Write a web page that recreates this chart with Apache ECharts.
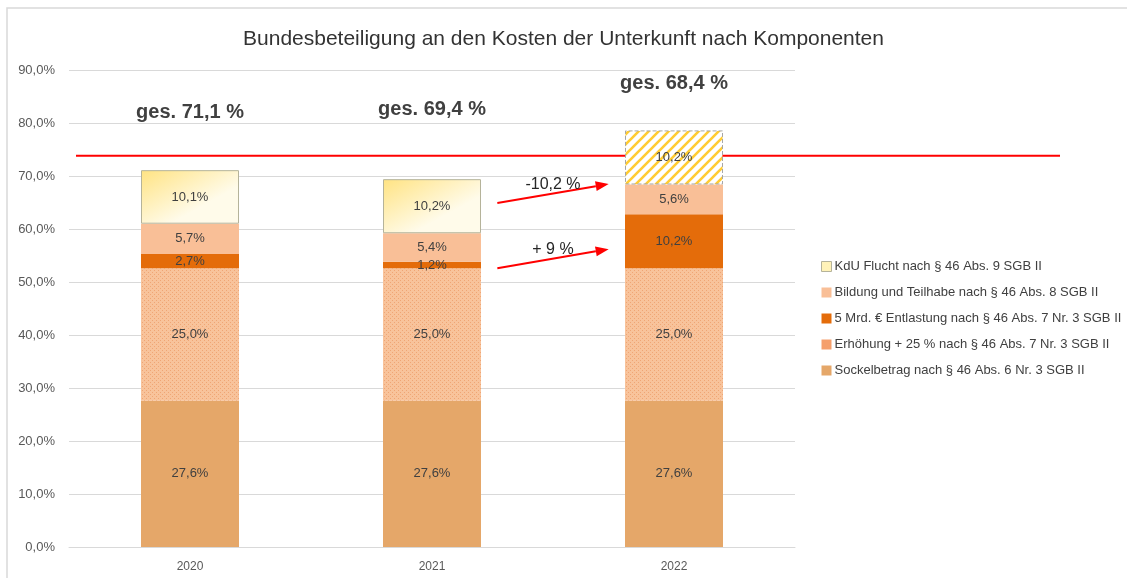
<!DOCTYPE html>
<html>
<head>
<meta charset="utf-8">
<script src="https://cdn.jsdelivr.net/npm/echarts@6/dist/echarts.min.js"></script>
<style>
  html, body { margin: 0; padding: 0; background: #fff; }
  #chart { width: 1127px; height: 578px; }
</style>
</head>
<body>
<div id="chart"></div>
<script>
// Daten (Anteile in %)
const years = ['2020', '2021', '2022'];
const sockelbetrag = [27.6, 27.6, 27.6];
const erhoehung = [25.0, 25.0, 25.0];
const entlastung = [2.7, 1.2, 10.2];
const bildung = [5.7, 5.4, 5.6];
const kduFlucht = [10.1, 10.2, 10.2];
const yTicks = [0, 10, 20, 30, 40, 50, 60, 70, 80, 90];

// Beschriftungen / Annotationen
const totalLabels = ['ges. 71,1 %', 'ges. 69,4 %', 'ges. 68,4 %'];
const totalLabelY = [81.9, 82.5, 87.5];
const refLineValue = 73.8;
const arrowFrom = [64.9, 52.6];
const arrowTo = [68.5, 56.2];
const arrowText = ['-10,2 %', '+ 9 %'];
const arrowTextY = [68.3, 56.2];

const seriesNames = [
  'Sockelbetrag nach § 46 Abs. 6 Nr. 3 SGB II',
  'Erhöhung + 25 % nach § 46 Abs. 7 Nr. 3 SGB II',
  '5 Mrd. € Entlastung nach § 46 Abs. 7 Nr. 3 SGB II',
  'Bildung und Teilhabe nach § 46 Abs. 8 SGB II',
  'KdU Flucht nach § 46 Abs. 9 SGB II'
];

// Muster: gepunktet (Erhöhung)
function dotPattern() {
  const c = document.createElement('canvas');
  c.width = 4; c.height = 4;
  const ctx = c.getContext('2d');
  ctx.fillStyle = '#F8C39B';
  ctx.fillRect(0, 0, 4, 4);
  ctx.fillStyle = '#EFA574';
  ctx.fillRect(0, 0, 1, 1);
  ctx.fillRect(2, 2, 1, 1);
  return c;
}
// Muster: schraffiert (KdU Flucht 2022)
function hatchPattern() {
  const s = 10;
  const c = document.createElement('canvas');
  c.width = s; c.height = s;
  const ctx = c.getContext('2d');
  ctx.fillStyle = '#ffffff';
  ctx.fillRect(0, 0, s, s);
  ctx.strokeStyle = '#FFCC33';
  ctx.lineWidth = 2.6;
  ctx.beginPath();
  ctx.moveTo(-2, s + 2); ctx.lineTo(s + 2, -2);
  ctx.moveTo(-s / 2 - 2, s / 2 + 2); ctx.lineTo(s / 2 + 2, -s / 2 - 2);
  ctx.moveTo(s / 2 - 2, s * 1.5 + 2); ctx.lineTo(s * 1.5 + 2, s / 2 - 2);
  ctx.stroke();
  return c;
}

const fmt = v => v.toFixed(1).replace('.', ',') + '%';

const kduGradient = new echarts.graphic.LinearGradient(0, 0, 0.3, 1, [
  { offset: 0, color: '#FFE382' },
  { offset: 1, color: '#FFFBEA' }
]);

const kduData = kduFlucht.map((v, i) => i === 2
  ? { value: v, itemStyle: { color: { image: hatchPattern(), repeat: 'repeat' }, borderColor: '#A6A6A6', borderWidth: 1, borderType: 'dashed' } }
  : { value: v, itemStyle: { color: kduGradient, borderColor: '#B5B39A', borderWidth: 1 } });

const barLabel = {
  show: true,
  position: 'inside',
  color: '#404040',
  fontSize: 13,
  fontFamily: 'Liberation Sans',
  formatter: p => fmt(p.value)
};

function bar(name, data, itemStyle) {
  return { name, type: 'bar', stack: 'total', barWidth: 98, data, itemStyle, label: barLabel };
}

const chartDom = document.getElementById('chart');
const chart = echarts.init(chartDom);

const option = {
  animation: false,
  backgroundColor: '#fff',
  textStyle: { fontFamily: 'Liberation Sans' },
  title: {
    text: 'Bundesbeteiligung an den Kosten der Unterkunft nach Komponenten',
    left: 'center',
    top: 24,
    textStyle: { fontSize: 21, fontWeight: 'normal', color: '#333333', fontFamily: 'Liberation Sans' }
  },
  legend: {
    orient: 'vertical',
    left: 816,
    top: 255,
    icon: 'rect',
    itemWidth: 10,
    itemHeight: 10,
    itemGap: 13,
    textStyle: { fontSize: 13, color: '#404040', padding: [0, 0, 0, -2] },
    data: [
      { name: seriesNames[4], itemStyle: { color: '#FFF2B8', borderColor: '#B5B39A', borderWidth: 1 } },
      { name: seriesNames[3] },
      { name: seriesNames[2] },
      { name: seriesNames[1], itemStyle: { color: '#F59F6C' } },
      { name: seriesNames[0] }
    ]
  },
  grid: { left: 69, right: 332, top: 70, bottom: 31 },
  xAxis: {
    type: 'category',
    data: years,
    axisTick: { show: false },
    axisLine: { lineStyle: { color: '#D9D9D9' } },
    axisLabel: { color: '#595959', fontSize: 12, margin: 14 }
  },
  yAxis: {
    type: 'value',
    min: yTicks[0],
    max: yTicks[yTicks.length - 1],
    interval: 10,
    axisLabel: { color: '#595959', fontSize: 13, margin: 14, formatter: v => v.toFixed(1).replace('.', ',') + '%' },
    splitLine: { lineStyle: { color: '#D9D9D9' } }
  },
  series: [
    bar(seriesNames[0], sockelbetrag, { color: '#E5A769' }),
    bar(seriesNames[1], erhoehung, { color: { image: dotPattern(), repeat: 'repeat' } }),
    bar(seriesNames[2], entlastung, { color: '#E46C0A' }),
    bar(seriesNames[3], bildung, { color: '#F9BF97' }),
    bar(seriesNames[4], kduData, {})
  ]
};

chart.setOption(option);

// Annotationen über Achsen-Umrechnung platzieren
function drawAnnotations() {
  const band = chart.convertToPixel({ xAxisIndex: 0 }, years[1]) - chart.convertToPixel({ xAxisIndex: 0 }, years[0]);
  const g = [];
  // Rahmen
  g.push({ type: 'polyline', shape: { points: [[7, 600], [7, 8], [1130, 8]] }, style: { stroke: '#D9D9D9', lineWidth: 1.5, fill: null } });
  // Summen
  totalLabels.forEach((t, i) => {
    const p = chart.convertToPixel({ seriesIndex: 0 }, [i, totalLabelY[i]]);
    g.push({ type: 'text', x: p[0], y: p[1], style: { text: t, fontSize: 20, fontWeight: 'bold', fill: '#404040', align: 'center', verticalAlign: 'middle', fontFamily: 'Liberation Sans' } });
  });
  // rote Linie
  const ry = chart.convertToPixel({ yAxisIndex: 0 }, refLineValue);
  g.push({ type: 'line', shape: { x1: 76, y1: ry, x2: 1060, y2: ry }, style: { stroke: '#FF0000', lineWidth: 2 } });
  // Pfeile
  arrowFrom.forEach((v, i) => {
    const a = chart.convertToPixel({ seriesIndex: 0 }, [1, v]);
    const b = chart.convertToPixel({ seriesIndex: 0 }, [2, arrowTo[i]]);
    a[0] += band * 0.27;
    b[0] -= band * 0.27;
    const ang = Math.atan2(b[1] - a[1], b[0] - a[0]);
    const len = 13, w = 5;
    const bx = b[0] - len * Math.cos(ang), by = b[1] - len * Math.sin(ang);
    g.push({ type: 'line', shape: { x1: a[0], y1: a[1], x2: bx, y2: by }, style: { stroke: '#FF0000', lineWidth: 2 } });
    g.push({ type: 'polygon', shape: { points: [
      [b[0], b[1]],
      [bx + w * Math.sin(ang), by - w * Math.cos(ang)],
      [bx - w * Math.sin(ang), by + w * Math.cos(ang)]
    ] }, style: { fill: '#FF0000' } });
    const tp = chart.convertToPixel({ yAxisIndex: 0 }, arrowTextY[i]);
    g.push({ type: 'text', x: (a[0] + b[0]) / 2, y: tp, style: { text: arrowText[i], fontSize: 16, fill: '#262626', align: 'center', verticalAlign: 'middle', fontFamily: 'Liberation Sans' } });
  });
  chart.setOption({ graphic: g });
}
drawAnnotations();

window.addEventListener('resize', () => {
  chart.resize();
  drawAnnotations();
});
</script>
</body>
</html>
